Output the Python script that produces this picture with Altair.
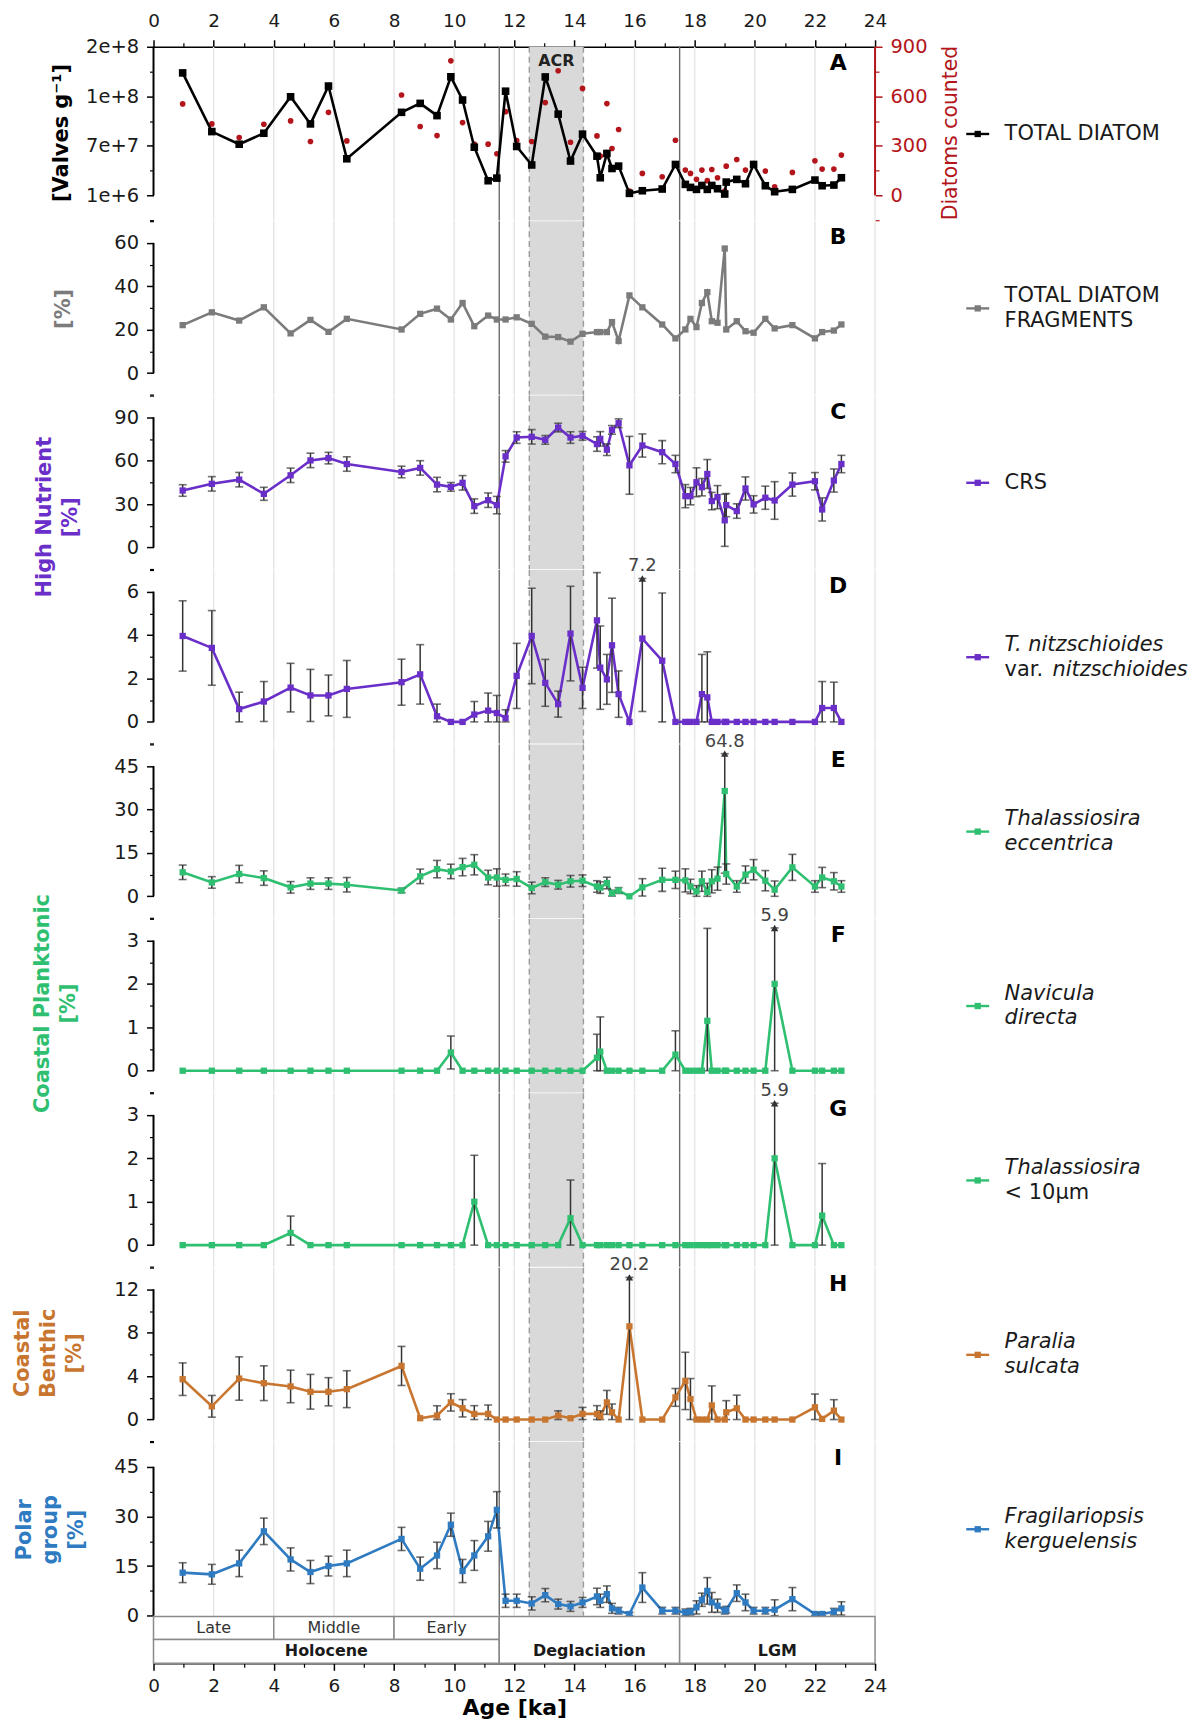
import altair as alt
import pandas as pd

FONT = "DejaVu Sans"

# ---------------- data ----------------
AGE = [0.97, 1.94, 2.85, 3.67, 4.56, 5.22, 5.82, 6.43, 8.25, 8.87,
       9.43, 9.89, 10.28, 10.67, 11.13, 11.42, 11.71, 12.08, 12.58, 13.03,
       13.46, 13.87, 14.27, 14.75, 14.86, 15.08, 15.25, 15.47, 15.83, 16.26,
       16.92, 17.36, 17.69, 17.86, 18.06, 18.24, 18.42, 18.57, 18.76, 19.00,
       19.05, 19.40, 19.69, 19.96, 20.35, 20.66, 21.25, 22.00, 22.24, 22.63,
       22.88]

TOTAL_VALVES = [1.65e8, 8.64e7, 6.95e7, 8.42e7, 1.33e8, 9.67e7, 1.474e8, 5.0e7, 1.122e8, 1.242e8,
                1.078e8, 1.598e8, 1.287e8, 6.55e7, 2.06e7, 2.41e7, 1.405e8, 6.65e7, 4.17e7, 1.596e8,
                1.098e8, 4.7e7, 8.3e7, 5.35e7, 2.46e7, 5.71e7, 3.7e7, 4.02e7, 3.7e6, 7.2e6,
                9.5e6, 4.24e7, 1.57e7, 1.17e7, 9.0e6, 1.43e7, 9.0e6, 1.43e7, 9.9e6, 2.8e6,
                1.88e7, 2.24e7, 1.66e7, 4.24e7, 1.39e7, 5.9e6, 9.0e6, 2.15e7, 1.39e7, 1.48e7,
                2.46e7]

DIATOMS_COUNTED = [554, 433, 350, 431, 451, 326, 503, 330, 608, 417,
                   362, 815, 441, 310, 310, 252, 507, 332, 326, 562,
                   755, 322, 648, 360, 238, 556, 284, 399, 26, 133,
                   113, 334, 153, 133, 97, 153, 89, 157, 107, 26,
                   177, 217, 153, 193, 147, 52, 139, 209, 159, 159,
                   244]

FRAGMENTS = [22.1, 28.0, 24.2, 30.3, 18.3, 24.5, 19.0, 25.0, 20.1, 27.3,
             29.7, 24.7, 32.3, 21.6, 26.5, 24.7, 24.7, 25.7, 22.7, 16.8,
             16.6, 14.5, 18.1, 18.9, 18.9, 18.9, 23.5, 14.8, 35.8, 30.3,
             22.4, 16.0, 20.1, 25.0, 21.2, 32.3, 37.3, 23.9, 23.2, 57.4,
             20.1, 23.9, 19.3, 18.6, 25.0, 20.6, 22.1, 16.0, 18.9, 19.6,
             22.4]

CRS = [39.4, 44.0, 46.9, 37.1, 49.9, 60.2, 61.8, 57.7, 52.2, 55.0,
       43.5, 41.9, 44.7, 28.6, 32.7, 29.3, 63.0, 76.0, 76.5, 74.4,
       82.9, 76.0, 77.2, 71.5, 75.1, 67.6, 81.3, 85.9, 56.8, 70.5,
       65.9, 57.7, 35.5, 35.5, 45.1, 41.7, 50.8, 32.1, 34.8, 18.8,
       29.3, 25.2, 40.8, 29.8, 34.4, 32.5, 43.5, 45.8, 26.3, 46.3,
       57.7]
CRS_ERR = [4, 5, 5, 4.5, 5, 5, 4, 5, 4, 5,
           5, 3, 5, 5, 5, 6, 4, 4, 5, 3,
           3, 4, 3, 5, 5, 4, 3, 3, 20, 8,
           8, 6, 8, 6, 10, 6, 10, 6, 8, 18,
           8, 5, 8, 6, 8, 13, 8, 6, 8, 8,
           6]

TNITZ = [3.96, 3.41, 0.59, 0.94, 1.58, 1.22, 1.22, 1.52, 1.83, 2.19,
         0.26, 0.0, 0.0, 0.34, 0.52, 0.41, 0.18, 2.12, 3.96, 1.80,
         0.82, 4.07, 1.57, 4.68, 2.50, 1.96, 3.53, 1.28, 0.0, 3.84,
         2.82, 0.0, 0.0, 0.0, 0.0, 1.28, 1.13, 0.0, 0.0, 0.0,
         0.0, 0.0, 0.0, 0.0, 0.0, 0.0, 0.0, 0.0, 0.64, 0.64,
         0.0]
TNITZ_ERR = [1.62, 1.72, 0.78, 0.92, 1.12, 1.20, 0.94, 1.31, 1.06, 1.37,
             0.56, 0.0, 0.0, 0.60, 0.81, 0.81, 0.38, 1.50, 2.20, 1.08,
             0.60, 2.18, 0.95, 2.20, 1.92, 1.15, 2.17, 1.07, 0.0, 3.36,
             3.12, 0.0, 0.0, 0.0, 0.0, 1.83, 2.10, 0.0, 0.0, 0.0,
             0.0, 0.0, 0.0, 0.0, 0.0, 0.0, 0.0, 0.0, 1.22, 1.19,
             0.0]

ECCENTRICA = [8.3, 4.8, 7.7, 6.3, 3.1, 4.4, 4.4, 4.0, 2.0, 6.9,
              9.4, 8.6, 10.1, 10.9, 6.5, 6.5, 5.7, 6.0, 2.9, 4.9,
              4.0, 5.2, 5.4, 3.4, 3.0, 4.6, 1.1, 2.0, 0.0, 3.1,
              5.7, 5.7, 5.5, 3.4, 1.7, 5.2, 1.5, 5.2, 6.1, 36.4,
              7.7, 3.4, 7.5, 9.2, 5.4, 2.3, 10.0, 3.4, 6.5, 5.2,
              3.4]
ECCENTRICA_ERR = [2.5, 2.0, 3.0, 2.5, 2.0, 2.0, 2.0, 2.5, 0.8, 2.5,
                  3.0, 2.5, 3.0, 3.5, 2.5, 3.0, 2.0, 2.5, 2.0, 1.5,
                  1.5, 2.0, 2.0, 2.0, 2.0, 2.0, 1.0, 1.0, 0.0, 3.0,
                  4.0, 3.0, 4.0, 2.5, 2.0, 3.5, 3.0, 4.0, 4.0, 28.4,
                  3.5, 2.0, 3.0, 3.5, 3.5, 3.0, 4.5, 2.0, 3.5, 3.0,
                  2.0]

NAVICULA = [0, 0, 0, 0, 0, 0, 0, 0, 0, 0,
            0, 0.42, 0, 0, 0, 0, 0, 0, 0, 0,
            0, 0, 0, 0.30, 0.44, 0, 0, 0, 0, 0,
            0, 0.37, 0, 0, 0, 0, 1.15, 0, 0, 0,
            0, 0, 0, 0, 0, 2.0, 0, 0, 0, 0,
            0]
NAVICULA_ERR = [0, 0, 0, 0, 0, 0, 0, 0, 0, 0,
                0, 0.38, 0, 0, 0, 0, 0, 0, 0, 0,
                0, 0, 0, 0.54, 0.80, 0, 0, 0, 0, 0,
                0, 0.55, 0, 0, 0, 0, 2.13, 0, 0, 0,
                0, 0, 0, 0, 0, 3.9, 0, 0, 0, 0,
                0]

THAL_SMALL = [0, 0, 0, 0, 0.28, 0, 0, 0, 0, 0,
              0, 0, 0, 1.0, 0, 0, 0, 0, 0, 0,
              0, 0.62, 0, 0, 0, 0, 0, 0, 0, 0,
              0, 0, 0, 0, 0, 0, 0, 0, 0, 0,
              0, 0, 0, 0, 0, 2.0, 0, 0, 0.68, 0,
              0]
THAL_SMALL_ERR = [0, 0, 0, 0, 0.39, 0, 0, 0, 0, 0,
                  0, 0, 0, 1.07, 0, 0, 0, 0, 0, 0,
                  0, 0.88, 0, 0, 0, 0, 0, 0, 0, 0,
                  0, 0, 0, 0, 0, 0, 0, 0, 0, 0,
                  0, 0, 0, 0, 0, 3.9, 0, 0, 1.2, 0,
                  0]

PARALIA = [3.72, 1.22, 3.78, 3.35, 3.05, 2.56, 2.56, 2.80, 4.94, 0.12,
           0.37, 1.58, 1.04, 0.52, 0.52, 0.0, 0.0, 0.0, 0.0, 0.0,
           0.37, 0.12, 0.52, 0.52, 0.30, 1.58, 0.67, 0.0, 8.59, 0.0,
           0.0, 2.04, 3.56, 1.89, 0.0, 0.0, 0.0, 1.30, 0.0, 0.0,
           0.67, 1.04, 0.0, 0.0, 0.0, 0.0, 0.0, 1.13, 0.06, 0.82,
           0.0]
PARALIA_ERR = [1.50, 1.00, 2.00, 1.60, 1.50, 1.60, 1.30, 1.70, 1.80, 0.0,
               0.90, 0.80, 0.80, 0.76, 0.82, 0.0, 0.0, 0.0, 0.0, 0.0,
               0.43, 0.0, 0.60, 0.76, 0.50, 1.10, 0.76, 0.0, 11.61, 0.0,
               0.0, 0.82, 2.64, 1.89, 0.0, 0.0, 0.0, 1.80, 0.0, 0.0,
               1.07, 1.21, 0.0, 0.0, 0.0, 0.0, 0.0, 1.22, 0.0, 1.01,
               0.0]

KERGUELENSIS = [13.0, 12.5, 15.8, 25.5, 17.0, 13.2, 15.0, 15.8, 23.2, 14.2,
                18.2, 27.5, 13.5, 18.2, 24.0, 32.0, 4.5, 4.5, 3.7, 6.2,
                3.5, 2.8, 4.0, 5.8, 4.5, 6.5, 2.2, 1.5, 0.5, 8.5,
                1.5, 1.5, 1.0, 1.2, 2.5, 4.8, 7.5, 4.0, 3.0, 1.5,
                1.8, 6.8, 4.0, 1.5, 1.5, 1.8, 5.0, 0.5, 0.5, 1.2,
                2.2]
KERGUELENSIS_ERR = [3.0, 3.0, 4.0, 4.0, 3.5, 3.5, 3.0, 4.0, 3.5, 3.5,
                    4.0, 3.5, 3.5, 4.5, 4.5, 5.5, 2.0, 2.0, 2.0, 2.0,
                    1.5, 1.5, 1.5, 2.5, 2.0, 2.5, 1.5, 1.0, 0.5, 4.5,
                    1.0, 1.0, 1.0, 1.0, 2.0, 2.0, 4.0, 3.0, 2.0, 1.0,
                    1.0, 2.5, 2.5, 1.0, 1.0, 3.0, 3.5, 0.5, 0.5, 1.0,
                    2.0]

# truncated error bars (arrow + true upper value)
ANN_PANEL = ["D", "E", "F", "G", "H"]
ANN_AGE = [16.26, 19.00, 20.66, 20.66, 15.83]
ANN_TIP = [6.61, 49.3, 3.29, 3.27, 13.1]
ANN_LABEL = ["7.2", "64.8", "5.9", "5.9", "20.2"]

# axis ticks
X_MAJOR = [0, 2, 4, 6, 8, 10, 12, 14, 16, 18, 20, 22, 24]
X_MINOR = [1, 3, 5, 7, 9, 11, 13, 15, 17, 19, 21, 23]
GRID_X = [2, 4, 6, 8, 10, 12, 14, 16, 18, 20, 22, 24]
VALVE_TICKS = [1e6, 6.7333e7, 1.33667e8, 2e8]
VALVE_TICK_LABELS = ["1e+6", "7e+7", "1e+8", "2e+8"]
VALVE_MINOR = [-3.217e7, 3.4167e7, 1.005e8, 1.66833e8]
COUNT_TICKS = [0, 300, 600, 900]
COUNT_MINOR = [-150, 150, 450, 750]

# periods
BOUNDARIES = [11.5, 17.5]
ACR_START, ACR_END = 12.5, 14.3
EPOCH_LABELS = ["Late", "Middle", "Early", "Holocene", "Deglaciation", "LGM"]
EPOCH_START = [0, 4, 8, 0, 11.5, 17.5]
EPOCH_END = [4, 8, 11.5, 11.5, 17.5, 24]
EPOCH_LEVEL = ["sub", "sub", "sub", "main", "main_full", "main_full"]

# ---------------- style / layout ----------------
BLACK = "#000000"
GRAY = "#7b7b7b"
PURPLE = "#6a2fc9"
GREEN = "#2fbf71"
ORANGE = "#c8762f"
BLUE = "#2f7bc2"
RED = "#b3151b"
ERR_C = "#333333"

W = 724
H = 174.2
H_BAND = 47
LEG_X = 827
LEG_TEXT_X = 854
LEG_Y = 87.5
LEG_LINE = 25
LETTER_X = 687
LETTER_Y = 16
YLABEL_SIZE = 19.5
XLABEL_SIZE = 18.5

XS = alt.Scale(domain=[0, 24], nice=False, zero=False)
XN = alt.X("age:Q", scale=XS, axis=None)
ONE = pd.DataFrame({"a": [0]})
DUMMY_YS = alt.Scale(domain=[0, 1], nice=False, zero=False)


def bg_layers(h):
    grid = alt.Chart(pd.DataFrame({"g": GRID_X})).mark_rule(color="#e6e6e6", strokeWidth=1.5).encode(
        x=alt.X("g:Q", scale=XS, axis=None), y=alt.value(0), y2=alt.value(h))
    acr = alt.Chart(pd.DataFrame({"a": [ACR_START], "b": [ACR_END]})).mark_rect(color="#d9d9d9").encode(
        x=alt.X("a:Q", scale=XS, axis=None), x2="b:Q", y=alt.value(0), y2=alt.value(h))
    edges = alt.Chart(pd.DataFrame({"g": [ACR_START, ACR_END]})).mark_rule(
        color="#9b9b9b", strokeWidth=1.4, strokeDash=[6, 4]).encode(
        x=alt.X("g:Q", scale=XS, axis=None), y=alt.value(0), y2=alt.value(h))
    bnd = alt.Chart(pd.DataFrame({"g": BOUNDARIES})).mark_rule(color="#6a6a6a", strokeWidth=1.4).encode(
        x=alt.X("g:Q", scale=XS, axis=None), y=alt.value(0), y2=alt.value(h))
    return [grid, acr, edges, bnd]


def y_axis_layers(ys, major, minor, color="black", orient="left", label_expr=None, label_color="#1a1a1a"):
    xpos = 0 if orient == "left" else 24
    kw = dict(values=major, orient=orient, domain=False, tickSize=7, tickWidth=1.5, tickColor=color,
              labelColor=label_color, labelPadding=8, labelFontSize=YLABEL_SIZE, labelFont=FONT, grid=False)
    if label_expr:
        kw["labelExpr"] = label_expr
    major_l = alt.Chart(pd.DataFrame({"t": major, "xp": [xpos] * len(major)})).mark_point(opacity=0).encode(
        x=alt.X("xp:Q", scale=XS, axis=None), y=alt.Y("t:Q", scale=ys, axis=alt.Axis(**kw), title=None))
    minor_l = alt.Chart(pd.DataFrame({"t": minor, "xp": [xpos] * len(minor)})).mark_point(opacity=0).encode(
        x=alt.X("xp:Q", scale=XS, axis=None), y=alt.Y("t:Q", scale=ys, axis=alt.Axis(
            values=minor, orient=orient, labels=False, domain=False, tickSize=4, tickWidth=1.2,
            tickColor=color, grid=False), title=None))
    spine = alt.Chart(pd.DataFrame({"a": [major[0]], "b": [major[-1]], "xp": [xpos]})).mark_rule(
        color=color, strokeWidth=2).encode(
        x=alt.X("xp:Q", scale=XS, axis=None), y=alt.Y("a:Q", scale=ys, axis=None), y2="b:Q")
    return [major_l, minor_l, spine]


def series_layers(vals, errs, color, ys, letter, sq=40):
    df = pd.DataFrame({"age": AGE, "v": vals})
    df["e"] = errs if errs is not None else 0.0
    df["lo"] = (df["v"] - df["e"]).clip(lower=0)
    df["hi"] = df["v"] + df["e"]
    ann = [(a, t, l) for p, a, t, l in zip(ANN_PANEL, ANN_AGE, ANN_TIP, ANN_LABEL) if p == letter]
    for a, t, l in ann:
        df.loc[(df["age"] - a).abs() < 1e-9, "hi"] = t
    layers = [alt.Chart(df).mark_line(color=color, strokeWidth=2.6).encode(
        x=XN, y=alt.Y("v:Q", scale=ys, axis=None))]
    edf = df[df["e"] > 0]
    if len(edf):
        layers += [
            alt.Chart(edf).mark_rule(color=ERR_C, strokeWidth=1.5).encode(
                x=XN, y=alt.Y("lo:Q", scale=ys, axis=None), y2="hi:Q"),
            alt.Chart(edf).mark_tick(color=ERR_C, orient="horizontal", size=8, thickness=1.6).encode(
                x=XN, y=alt.Y("lo:Q", scale=ys, axis=None)),
            alt.Chart(edf).mark_tick(color=ERR_C, orient="horizontal", size=8, thickness=1.6).encode(
                x=XN, y=alt.Y("hi:Q", scale=ys, axis=None)),
        ]
    layers.append(alt.Chart(df).mark_square(color=color, size=sq, opacity=1).encode(
        x=XN, y=alt.Y("v:Q", scale=ys, axis=None)))
    if ann:
        adf = pd.DataFrame({"age": [a for a, _, _ in ann], "tip": [t for _, t, _ in ann],
                            "lab": [l for _, _, l in ann]})
        layers += [
            alt.Chart(adf).mark_point(shape="triangle-up", filled=True, color=ERR_C, size=55, opacity=1).encode(
                x=XN, y=alt.Y("tip:Q", scale=ys, axis=None)),
            alt.Chart(adf).mark_text(font=FONT, fontSize=18, color="#444444", dy=-12).encode(
                x=XN, y=alt.Y("tip:Q", scale=ys, axis=None), text="lab:N"),
        ]
    return layers


def text_at(text, x, y, **mk):
    return alt.Chart(pd.DataFrame({"t": [text]})).mark_text(**mk).encode(
        x=alt.value(x), y=alt.value(y), text="t:N")


def letter_layer(letter):
    return text_at(letter, LETTER_X, LETTER_Y, font=FONT, fontSize=22, fontWeight="bold", color="black",
                   align="center", baseline="middle")


def ytitle_layer(text, color, x, y, weight="bold", size=21):
    # x is the position of the first line; further lines go to the right
    return text_at(text, x, y, font=FONT, fontSize=size, fontWeight=weight, color=color, angle=270,
                   align="center", baseline="middle", lineBreak="\n", lineHeight=26)


def legend_layers(color, entries):
    n = max(e[1] for e in entries) + 1
    layers = [
        alt.Chart(ONE).mark_rule(color=color, strokeWidth=2.4).encode(
            x=alt.value(LEG_X - 11.5), x2=alt.value(LEG_X + 11.5), y=alt.value(LEG_Y)),
        alt.Chart(ONE).mark_square(color=color, size=40, opacity=1).encode(
            x=alt.value(LEG_X), y=alt.value(LEG_Y)),
    ]
    for t, line, dx, it in entries:
        layers.append(text_at(t, LEG_TEXT_X + dx, LEG_Y + (line - (n - 1) / 2) * LEG_LINE,
                              font=FONT, fontSize=21, fontStyle="italic" if it else "normal",
                              color="#1a1a1a", align="left", baseline="middle"))
    return layers


def x_axis_layers(orient, title=None):
    kw = dict(orient=orient, values=X_MAJOR, format="d", domain=True, domainColor="black", domainWidth=1.5,
              tickSize=7, tickWidth=1.5, tickColor="black", labelPadding=9 if orient == "top" else 6,
              labelFontSize=XLABEL_SIZE, labelFont=FONT, labelColor="#1a1a1a", labelFlush=False, grid=False)
    if title:
        kw.update(titleFontSize=22, titleFontWeight="bold", titleFont=FONT, titlePadding=3, titleColor="black")
    major = alt.Chart(pd.DataFrame({"t": X_MAJOR, "yp": [0] * len(X_MAJOR)})).mark_point(opacity=0).encode(
        x=alt.X("t:Q", scale=XS, axis=alt.Axis(**kw), title=title),
        y=alt.Y("yp:Q", scale=DUMMY_YS, axis=None))
    minor = alt.Chart(pd.DataFrame({"t": X_MINOR, "yp": [0] * len(X_MINOR)})).mark_point(opacity=0).encode(
        x=alt.X("t:Q", scale=XS, axis=alt.Axis(orient=orient, values=X_MINOR, labels=False, domain=False,
                                               tickSize=4, tickWidth=1.2, tickColor="black", grid=False),
                title=None),
        y=alt.Y("yp:Q", scale=DUMMY_YS, axis=None))
    return [major, minor]


def finish(layers, h):
    return alt.layer(*layers).resolve_scale(y="independent").resolve_axis(
        x="independent", y="independent").properties(width=W, height=h)


# ---------------- panel A ----------------
V_DOMAIN = [-3.25e7, 2e8]
frac = (VALVE_TICKS[0] - V_DOMAIN[0]) / (V_DOMAIN[1] - V_DOMAIN[0])
C_DOMAIN = [-frac * COUNT_TICKS[-1] / (1 - frac), COUNT_TICKS[-1]]
vs = alt.Scale(domain=V_DOMAIN, nice=False, zero=False)
cs = alt.Scale(domain=C_DOMAIN, nice=False, zero=False)
label_expr = " : ".join(f"abs(datum.value - {v}) < 1 ? '{l}'" for v, l in zip(VALVE_TICKS, VALVE_TICK_LABELS)) + " : ''"

dfA = pd.DataFrame({"age": AGE, "v": TOTAL_VALVES, "c": DIATOMS_COUNTED})
a_layers = bg_layers(H) + x_axis_layers("top")
a_layers += y_axis_layers(cs, COUNT_TICKS, COUNT_MINOR, color=RED, orient="right", label_color=RED)
a_layers.append(alt.Chart(dfA).mark_circle(color=RED, size=32, opacity=1).encode(
    x=XN, y=alt.Y("c:Q", scale=cs, axis=None)))
a_layers += y_axis_layers(vs, VALVE_TICKS, VALVE_MINOR, label_expr=label_expr)
a_layers += [
    alt.Chart(dfA).mark_line(color=BLACK, strokeWidth=2.6).encode(x=XN, y=alt.Y("v:Q", scale=vs, axis=None)),
    alt.Chart(dfA).mark_square(color=BLACK, size=58, opacity=1).encode(x=XN, y=alt.Y("v:Q", scale=vs, axis=None)),
    alt.Chart(pd.DataFrame({"x": [(ACR_START + ACR_END) / 2], "t": ["ACR"]})).mark_text(
        font=FONT, fontSize=16, fontWeight="bold", color="#222222", baseline="middle").encode(
        x=alt.X("x:Q", scale=XS, axis=None), y=alt.value(14), text="t:N"),
    letter_layer("A"),
    ytitle_layer("[Valves g\u207b\u00b9]", BLACK, -92, 86.5),
    ytitle_layer("Diatoms counted", RED, W + 76, 86.5, weight="normal", size=20.5),
]
a_layers += legend_layers(BLACK, [("TOTAL DIATOM", 0, 0, False)])
rows = [finish(a_layers, H)]

# ---------------- panels B-I ----------------
SPECS = [
    dict(letter="B", vals=FRAGMENTS, errs=None, color=GRAY, domain=[-10, 70], major=[0, 20, 40, 60],
         minor=[-10, 10, 30, 50, 70], title=("[%]", GRAY, -90, 88),
         legend=[("TOTAL DIATOM", 0, 0, False), ("FRAGMENTS", 1, 0, False)]),
    dict(letter="C", vals=CRS, errs=CRS_ERR, color=PURPLE, domain=[-15, 105], major=[0, 30, 60, 90],
         minor=[-15, 15, 45, 75, 105], title=("High Nutrient\n[%]", PURPLE, -109, 122),
         legend=[("CRS", 0, 0, False)]),
    dict(letter="D", vals=TNITZ, errs=TNITZ_ERR, color=PURPLE, domain=[-1, 7], major=[0, 2, 4, 6],
         minor=[-1, 1, 3, 5, 7], title=None,
         legend=[("T. nitzschioides", 0, 0, True), ("var.", 1, 0, False), ("nitzschioides", 1, 48, True)]),
    dict(letter="E", vals=ECCENTRICA, errs=ECCENTRICA_ERR, color=GREEN, domain=[-7.5, 52.5],
         major=[0, 15, 30, 45], minor=[-7.5, 7.5, 22.5, 37.5, 52.5], title=None,
         legend=[("Thalassiosira", 0, 0, True), ("eccentrica", 1, 0, True)]),
    dict(letter="F", vals=NAVICULA, errs=NAVICULA_ERR, color=GREEN, domain=[-0.5, 3.5], major=[0, 1, 2, 3],
         minor=[-0.5, 0.5, 1.5, 2.5, 3.5], title=("Coastal Planktonic\n[%]", GREEN, -111, 85),
         legend=[("Navicula", 0, 0, True), ("directa", 1, 0, True)]),
    dict(letter="G", vals=THAL_SMALL, errs=THAL_SMALL_ERR, color=GREEN, domain=[-0.5, 3.5], major=[0, 1, 2, 3],
         minor=[-0.5, 0.5, 1.5, 2.5, 3.5], title=None,
         legend=[("Thalassiosira", 0, 0, True), ("< 10\u00b5m", 1, 0, False)]),
    dict(letter="H", vals=PARALIA, errs=PARALIA_ERR, color=ORANGE, domain=[-2, 14], major=[0, 4, 8, 12],
         minor=[-2, 2, 6, 10, 14], title=("Coastal\nBenthic\n[%]", ORANGE, -131, 86),
         legend=[("Paralia", 0, 0, True), ("sulcata", 1, 0, True)]),
    dict(letter="I", vals=KERGUELENSIS, errs=KERGUELENSIS_ERR, color=BLUE, domain=[0, 52.5], major=[0, 15, 30, 45],
         minor=[7.5, 22.5, 37.5, 52.5], title=("Polar\ngroup\n[%]", BLUE, -129, 88),
         legend=[("Fragilariopsis", 0, 0, True), ("kerguelensis", 1, 0, True)]),
]

for s in SPECS:
    ys = alt.Scale(domain=s["domain"], nice=False, zero=False)
    layers = bg_layers(H)
    layers += y_axis_layers(ys, s["major"], s["minor"])
    layers += series_layers(s["vals"], s["errs"], s["color"], ys, s["letter"])
    layers.append(letter_layer(s["letter"]))
    if s["title"]:
        t, c, tx, ty = s["title"]
        layers.append(ytitle_layer(t, c, tx, ty))
    layers += legend_layers(s["color"], s["legend"])
    rows.append(finish(layers, H))

# ---------------- epoch band ----------------
LEVEL_Y = {"sub": (0.51, 1.0, 0.755), "main": (0.0, 0.51, 0.255), "main_full": (0.0, 1.0, 0.255)}
band_df = pd.DataFrame({
    "name": EPOCH_LABELS, "x0": EPOCH_START, "x1": EPOCH_END,
    "r0": [LEVEL_Y[l][0] for l in EPOCH_LEVEL], "r1": [LEVEL_Y[l][1] for l in EPOCH_LEVEL],
    "ty": [LEVEL_Y[l][2] for l in EPOCH_LEVEL], "bold": [l != "sub" for l in EPOCH_LEVEL],
})
band_df["mid"] = (band_df["x0"] + band_df["x1"]) / 2
bs = alt.Scale(domain=[0, 1], nice=False, zero=False)
band_layers = [
    alt.Chart(band_df).mark_rect(fill="white", stroke="#8a8a8a", strokeWidth=1.5).encode(
        x=alt.X("x0:Q", scale=XS, axis=None), x2="x1:Q",
        y=alt.Y("r0:Q", scale=bs, axis=None), y2="r1:Q"),
    alt.Chart(band_df[~band_df["bold"]]).mark_text(font=FONT, fontSize=16, color="#333333", baseline="middle").encode(
        x=alt.X("mid:Q", scale=XS, axis=None), y=alt.Y("ty:Q", scale=bs, axis=None), text="name:N"),
    alt.Chart(band_df[band_df["bold"]]).mark_text(font=FONT, fontSize=16, fontWeight="bold", color="#1a1a1a",
                                                  baseline="middle").encode(
        x=alt.X("mid:Q", scale=XS, axis=None), y=alt.Y("ty:Q", scale=bs, axis=None), text="name:N"),
]
band_layers += x_axis_layers("bottom", title="Age [ka]")
rows.append(finish(band_layers, H_BAND))

chart = alt.vconcat(*rows, spacing=0, bounds="flush").properties(
    padding={"left": 4, "right": 0, "top": 1, "bottom": 0}
).configure_view(stroke=None).configure_axis(labelFont=FONT, titleFont=FONT, grid=False)

chart.save("out.html", embed_options={"renderer": "svg", "actions": False})
